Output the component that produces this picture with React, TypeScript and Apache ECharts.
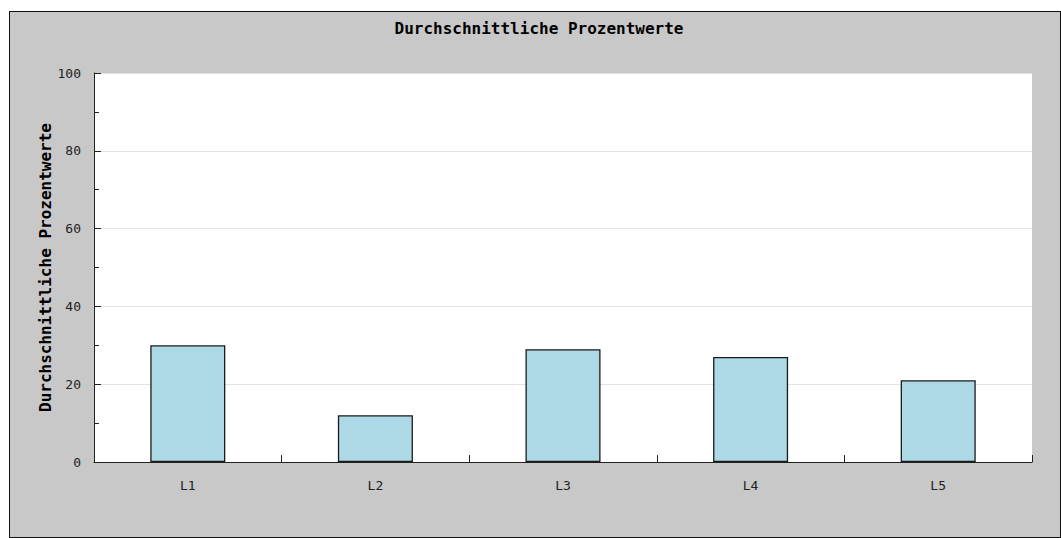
import React, { useEffect, useRef } from "react";
import * as echarts from "echarts";

const categories = ["L1", "L2", "L3", "L4", "L5"];
const values = [30, 12, 29, 27, 21];
const yTicks = { min: 0, max: 100, interval: 20 };
const titleText = "Durchschnittliche Prozentwerte";
const yAxisName = "Durchschnittliche Prozentwerte";

const MONO = "'DejaVu Sans Mono', 'Liberation Mono', monospace";

export default function App() {
  const ref = useRef<HTMLDivElement>(null);
  useEffect(() => {
    if (!ref.current) return;
    const chart = echarts.init(ref.current, undefined, { renderer: "svg" });
    chart.setOption({
      animation: false,
      backgroundColor: "#c8c8c8",
      graphic: [
        {
          type: "text",
          x: 529,
          y: 16,
          style: {
            text: titleText,
            fill: "#000",
            font: `bold 16px ${MONO}`,
            align: "center",
            verticalAlign: "middle",
          },
        },
      ],
      grid: {
        left: 84,
        top: 61,
        width: 938,
        height: 389,
        show: true,
        backgroundColor: "#ffffff",
        borderWidth: 0,
      },
      xAxis: {
        type: "category",
        data: categories,
        boundaryGap: true,
        axisLine: { show: true, lineStyle: { color: "#222", width: 1 } },
        axisTick: { show: true, inside: true, length: 7, lineStyle: { color: "#222" } },
        axisLabel: { color: "#222", fontFamily: MONO, fontSize: 13, margin: 17 },
        splitLine: { show: false },
      },
      yAxis: {
        type: "value",
        min: yTicks.min,
        max: yTicks.max,
        interval: yTicks.interval,
        name: yAxisName,
        nameLocation: "middle",
        nameRotate: 90,
        nameGap: 41,
        nameMoveOverlap: false,
        nameTextStyle: { color: "#000", fontFamily: MONO, fontWeight: "bold", fontSize: 16 },
        axisLine: { show: true, lineStyle: { color: "#222", width: 1 } },
        axisTick: { show: true, inside: true, length: 7, lineStyle: { color: "#222" } },
        minorTick: { show: true, splitNumber: 2, length: 5, lineStyle: { color: "#222" } },
        axisLabel: { color: "#222", fontFamily: MONO, fontSize: 13, margin: 13 },
        splitLine: { show: true, lineStyle: { color: "#e2e2e2", width: 1 } },
      },
      series: [
        {
          type: "bar",
          data: values,
          barWidth: "40%",
          itemStyle: { color: "#add8e6", borderColor: "#1a1a1a", borderWidth: 1.3 },
        },
      ],
    });
    return () => chart.dispose();
  }, []);

  return (
    <div
      style={{
        position: "absolute",
        left: 9,
        top: 11,
        width: 1052,
        height: 527,
        boxSizing: "border-box",
        border: "1px solid #111",
      }}
    >
      <div ref={ref} style={{ width: 1050, height: 525 }} />
    </div>
  );
}
